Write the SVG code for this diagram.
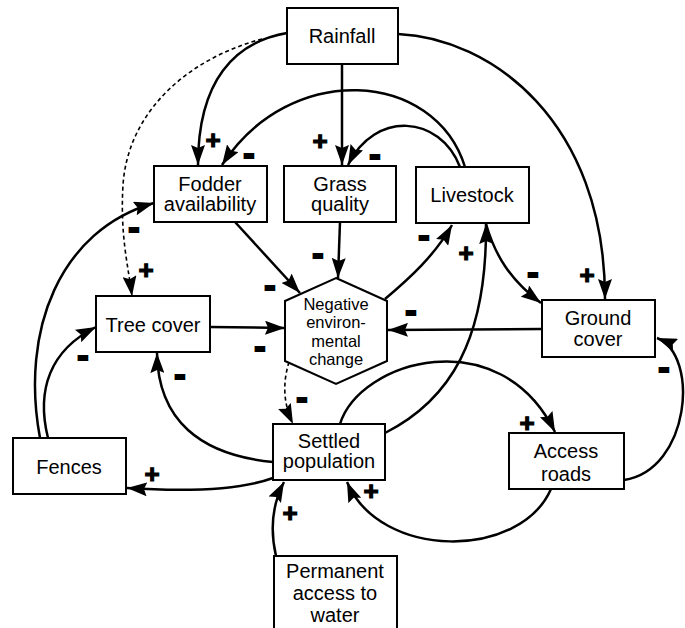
<svg xmlns="http://www.w3.org/2000/svg" width="685" height="628" viewBox="0 0 685 628">
<style>
.box{fill:#fff;stroke:#000;stroke-width:2}
.t{font-family:"Liberation Sans",Arial,sans-serif;font-size:20px;fill:#000;text-anchor:middle}
.th{font-family:"Liberation Sans",Arial,sans-serif;font-size:16.5px;fill:#000;text-anchor:middle}
.c{fill:none;stroke:#000;stroke-width:2.5}
.d{fill:none;stroke:#000;stroke-width:1.6;stroke-dasharray:4 3}
.p{font-family:"Liberation Sans",Arial,sans-serif;font-weight:bold;font-size:26px;fill:#000;stroke:#000;stroke-width:1.2;text-anchor:middle}
.m{font-family:"Liberation Sans",Arial,sans-serif;font-weight:bold;font-size:34px;fill:#000;stroke:#000;stroke-width:2;text-anchor:middle}
</style>
<defs>
<marker id="a" markerUnits="userSpaceOnUse" markerWidth="21" markerHeight="14" refX="20" refY="7" orient="auto">
<path d="M0,0 L20,7 L0,14 L3,7 z" fill="#000"/>
</marker>
</defs>
<rect width="685" height="628" fill="#fff"/>
<g id="connectors">
<path class="c" marker-end="url(#a)" d="M287,33 C235,42 198,80 198,165"/>
<path class="d" marker-end="url(#a)" d="M262,39 C190,58 128,110 123,185 C120,235 128,265 132,296"/>
<path class="c" marker-end="url(#a)" d="M342,64 L342,165"/>
<path class="c" marker-end="url(#a)" d="M398,34 C490,38 605,120 605,299"/>
<path class="c" marker-end="url(#a)" d="M465,167 C435,70 290,60 222,165"/>
<path class="c" marker-end="url(#a)" d="M460,167 C440,115 375,110 348,165"/>
<path class="c" marker-end="url(#a)" d="M235,222 L300,293"/>
<path class="c" marker-end="url(#a)" d="M340,222 L338,278"/>
<path class="c" marker-end="url(#a)" d="M385,299 C410,278 435,255 452,225"/>
<path class="c" marker-end="url(#a)" d="M385,433 C450,400 487,340 486,224"/>
<path class="c" marker-end="url(#a)" d="M486,224 C495,255 510,280 541,303"/>
<path class="c" marker-end="url(#a)" d="M542,329 L388,330"/>
<path class="c" marker-end="url(#a)" d="M210,327 L285,328"/>
<path class="d" marker-end="url(#a)" d="M289,362 C282,385 284,405 293,424"/>
<path class="c" marker-end="url(#a)" d="M273,462 C200,455 158,420 157,353"/>
<path class="c" marker-end="url(#a)" d="M273,478 C240,490 190,492 127,488"/>
<path class="c" marker-end="url(#a)" d="M48,438 C36,390 50,350 96,327"/>
<path class="c" marker-end="url(#a)" d="M40,438 C20,330 60,230 154,203"/>
<path class="c" marker-end="url(#a)" d="M340,424 C360,360 500,320 555,432"/>
<path class="c" marker-end="url(#a)" d="M624,480 C690,470 700,355 657,338"/>
<path class="c" marker-end="url(#a)" d="M551,489 C520,560 380,560 347,482"/>
<path class="c" marker-end="url(#a)" d="M276,556 C270,530 272,505 284,482"/>
</g>
<g id="signs">
<text class="p" x="213" y="149">+</text>
<text class="m" x="249" y="165">-</text>
<text class="p" x="320" y="150">+</text>
<text class="m" x="375" y="166">-</text>
<text class="m" x="134" y="239">-</text>
<text class="p" x="146" y="279">+</text>
<text class="m" x="270" y="297">-</text>
<text class="m" x="318" y="265">-</text>
<text class="m" x="424" y="247">-</text>
<text class="p" x="466" y="262">+</text>
<text class="m" x="533" y="284">-</text>
<text class="p" x="587" y="284">+</text>
<text class="m" x="411" y="322">-</text>
<text class="m" x="260" y="358">-</text>
<text class="m" x="83" y="367">-</text>
<text class="m" x="180" y="386">-</text>
<text class="m" x="302" y="409">-</text>
<text class="p" x="527" y="432">+</text>
<text class="m" x="664" y="379">-</text>
<text class="p" x="152" y="483">+</text>
<text class="p" x="371" y="500">+</text>
<text class="p" x="290" y="522">+</text>
</g>
<g id="rainfall"><rect class="box" x="287" y="8" width="111" height="56"/><text class="t" x="342" y="43">Rainfall</text></g>
<g id="fodder"><rect class="box" x="154" y="166" width="113" height="56"/><text class="t" x="210" y="191">Fodder</text><text class="t" x="210" y="211">availability</text></g>
<g id="grass"><rect class="box" x="284" y="166" width="112" height="56"/><text class="t" x="340" y="191">Grass</text><text class="t" x="340" y="211">quality</text></g>
<g id="livestock"><rect class="box" x="416" y="167" width="113" height="56"/><text class="t" x="472" y="202">Livestock</text></g>
<g id="groundcover"><rect class="box" x="542" y="300" width="113" height="57"/><text class="t" x="598" y="325">Ground</text><text class="t" x="598" y="346">cover</text></g>
<g id="treecover"><rect class="box" x="96" y="296" width="114" height="56"/><text class="t" x="153" y="332">Tree cover</text></g>
<g id="negative"><polygon class="box" points="336,278 387,301 387,361 336,384 285,361 285,301"/><text class="th" x="336" y="310">Negative</text><text class="th" x="336" y="328">environ-</text><text class="th" x="336" y="347">mental</text><text class="th" x="336" y="365">change</text></g>
<g id="fences"><rect class="box" x="13" y="438" width="113" height="56"/><text class="t" x="69" y="474">Fences</text></g>
<g id="settled"><rect class="box" x="273" y="424" width="112" height="56"/><text class="t" x="329" y="448">Settled</text><text class="t" x="329" y="468">population</text></g>
<g id="accessroads"><rect class="box" x="509" y="433" width="115" height="56"/><text class="t" x="566" y="458">Access</text><text class="t" x="566" y="481">roads</text></g>
<g id="water"><rect class="box" x="274" y="556" width="123" height="80"/><text class="t" x="335" y="578">Permanent</text><text class="t" x="335" y="600">access to</text><text class="t" x="335" y="622">water</text></g>
</svg>
